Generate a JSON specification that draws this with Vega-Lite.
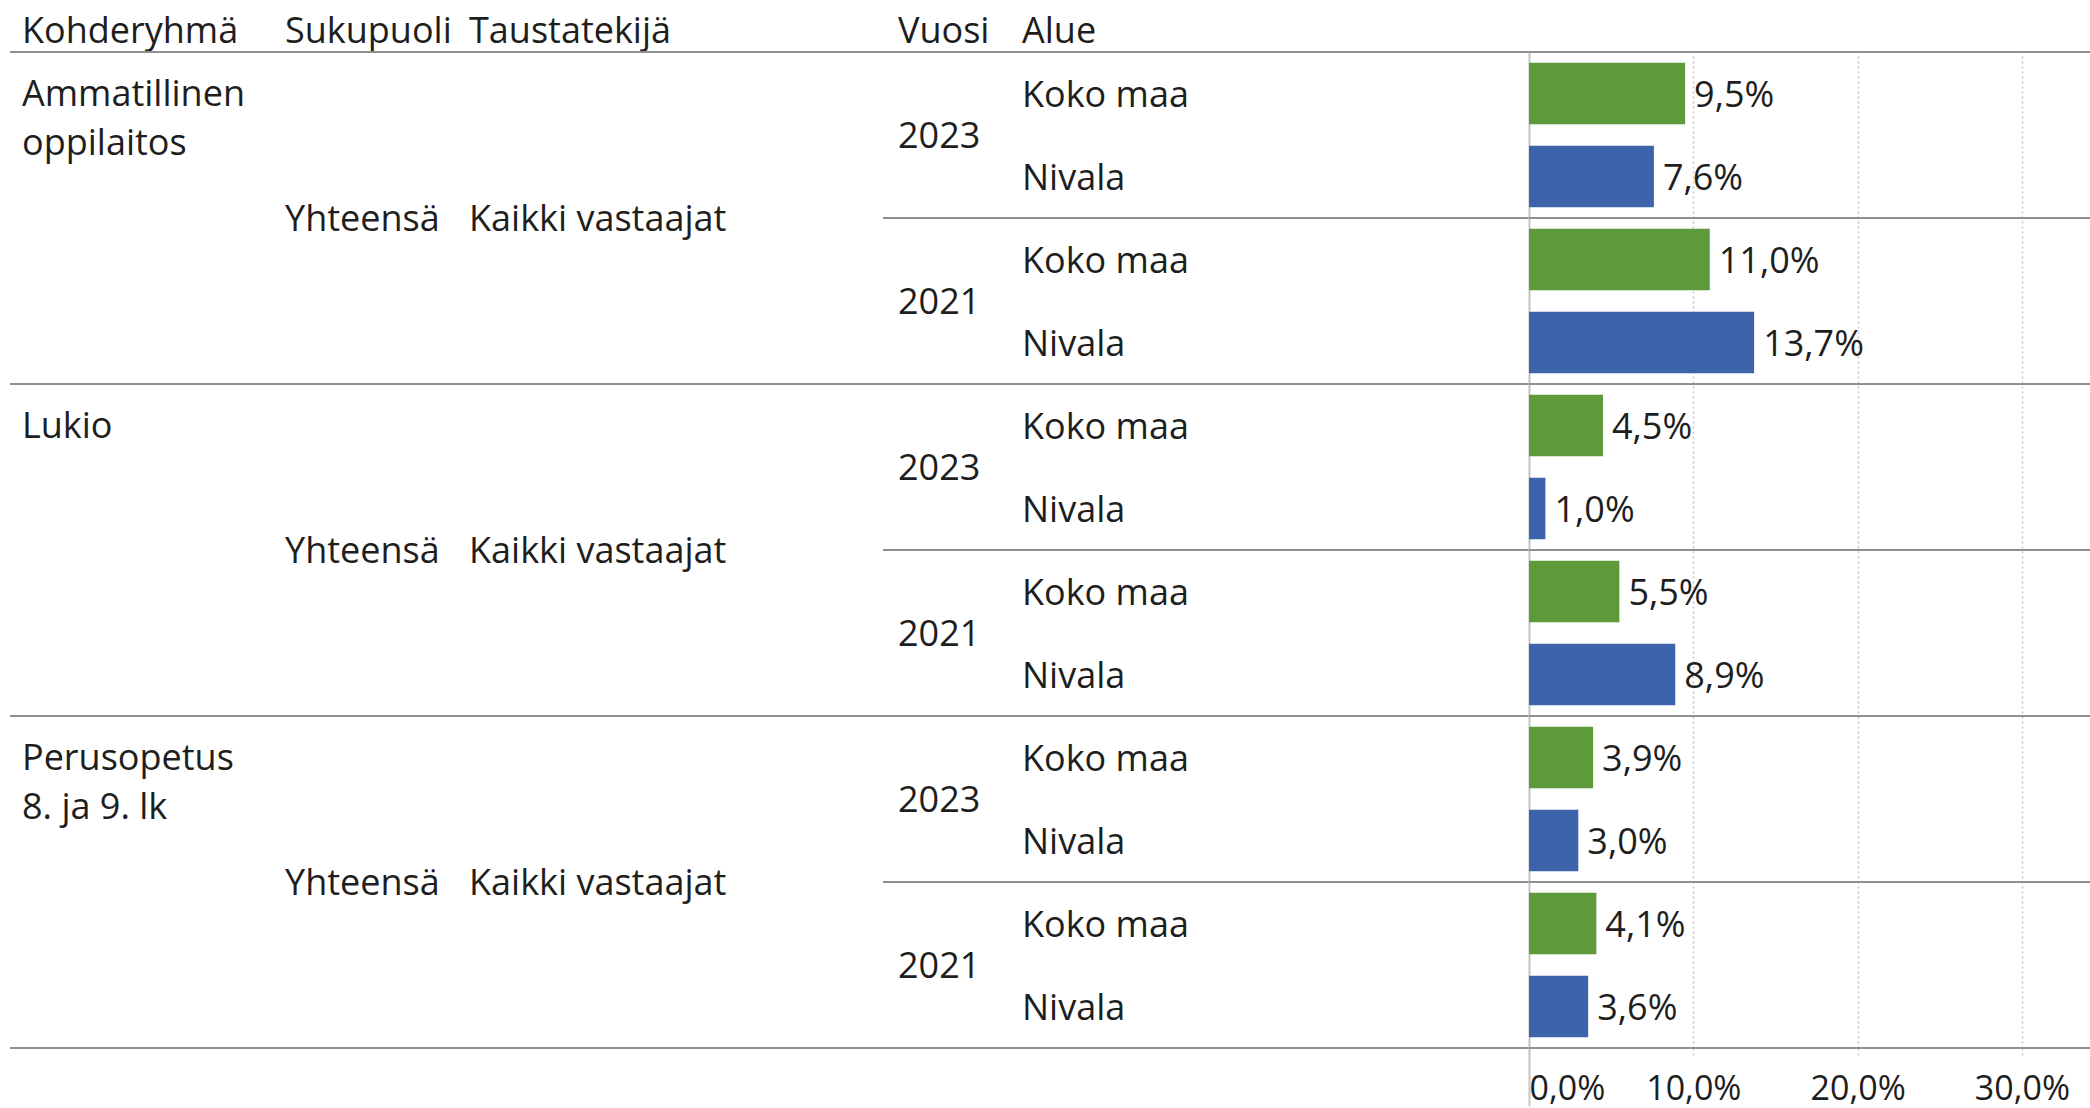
{
  "$schema": "https://vega.github.io/schema/vega-lite/v6.json",
  "padding": {"left": 9, "top": 13, "right": 0, "bottom": 0},
  "spacing": 0,
  "bounds": "flush",
  "config": {
    "view": {"stroke": null},
    "locale": {"number": {"decimal": ",", "thousands": "\u00a0", "grouping": [3], "currency": ["", "\u00a0€"], "percent": "%"}},
    "font": "Open Sans",
    "text": {"font": "Open Sans", "fontSize": 36, "color": "#1e1e1e"},
    "rule": {"color": "#909090", "strokeWidth": 2},
    "axis": {"labelFont": "Open Sans", "labelFontSize": 36, "labelColor": "#1e1e1e", "labelLimit": 1000}
  },
  "datasets": {
    "main": [
      {"Kohderyhmä": "Ammatillinen oppilaitos", "Otsikko": "Ammatillinen\noppilaitos", "Sukupuoli": "Yhteensä", "Taustatekijä": "Kaikki vastaajat", "Vuosi": "2023", "Alue": "Koko maa", "Osuus": 0.095, "Lohko": "Ammatillinen oppilaitos 2023", "Rivi": "Ammatillinen oppilaitos 2023 Koko maa"},
      {"Kohderyhmä": "Ammatillinen oppilaitos", "Otsikko": "Ammatillinen\noppilaitos", "Sukupuoli": "Yhteensä", "Taustatekijä": "Kaikki vastaajat", "Vuosi": "2023", "Alue": "Nivala", "Osuus": 0.076, "Lohko": "Ammatillinen oppilaitos 2023", "Rivi": "Ammatillinen oppilaitos 2023 Nivala"},
      {"Kohderyhmä": "Ammatillinen oppilaitos", "Otsikko": "Ammatillinen\noppilaitos", "Sukupuoli": "Yhteensä", "Taustatekijä": "Kaikki vastaajat", "Vuosi": "2021", "Alue": "Koko maa", "Osuus": 0.110, "Lohko": "Ammatillinen oppilaitos 2021", "Rivi": "Ammatillinen oppilaitos 2021 Koko maa"},
      {"Kohderyhmä": "Ammatillinen oppilaitos", "Otsikko": "Ammatillinen\noppilaitos", "Sukupuoli": "Yhteensä", "Taustatekijä": "Kaikki vastaajat", "Vuosi": "2021", "Alue": "Nivala", "Osuus": 0.137, "Lohko": "Ammatillinen oppilaitos 2021", "Rivi": "Ammatillinen oppilaitos 2021 Nivala"},
      {"Kohderyhmä": "Lukio", "Otsikko": "Lukio", "Sukupuoli": "Yhteensä", "Taustatekijä": "Kaikki vastaajat", "Vuosi": "2023", "Alue": "Koko maa", "Osuus": 0.045, "Lohko": "Lukio 2023", "Rivi": "Lukio 2023 Koko maa"},
      {"Kohderyhmä": "Lukio", "Otsikko": "Lukio", "Sukupuoli": "Yhteensä", "Taustatekijä": "Kaikki vastaajat", "Vuosi": "2023", "Alue": "Nivala", "Osuus": 0.010, "Lohko": "Lukio 2023", "Rivi": "Lukio 2023 Nivala"},
      {"Kohderyhmä": "Lukio", "Otsikko": "Lukio", "Sukupuoli": "Yhteensä", "Taustatekijä": "Kaikki vastaajat", "Vuosi": "2021", "Alue": "Koko maa", "Osuus": 0.055, "Lohko": "Lukio 2021", "Rivi": "Lukio 2021 Koko maa"},
      {"Kohderyhmä": "Lukio", "Otsikko": "Lukio", "Sukupuoli": "Yhteensä", "Taustatekijä": "Kaikki vastaajat", "Vuosi": "2021", "Alue": "Nivala", "Osuus": 0.089, "Lohko": "Lukio 2021", "Rivi": "Lukio 2021 Nivala"},
      {"Kohderyhmä": "Perusopetus 8. ja 9. lk", "Otsikko": "Perusopetus\n8. ja 9. lk", "Sukupuoli": "Yhteensä", "Taustatekijä": "Kaikki vastaajat", "Vuosi": "2023", "Alue": "Koko maa", "Osuus": 0.039, "Lohko": "Perusopetus 8. ja 9. lk 2023", "Rivi": "Perusopetus 8. ja 9. lk 2023 Koko maa"},
      {"Kohderyhmä": "Perusopetus 8. ja 9. lk", "Otsikko": "Perusopetus\n8. ja 9. lk", "Sukupuoli": "Yhteensä", "Taustatekijä": "Kaikki vastaajat", "Vuosi": "2023", "Alue": "Nivala", "Osuus": 0.030, "Lohko": "Perusopetus 8. ja 9. lk 2023", "Rivi": "Perusopetus 8. ja 9. lk 2023 Nivala"},
      {"Kohderyhmä": "Perusopetus 8. ja 9. lk", "Otsikko": "Perusopetus\n8. ja 9. lk", "Sukupuoli": "Yhteensä", "Taustatekijä": "Kaikki vastaajat", "Vuosi": "2021", "Alue": "Koko maa", "Osuus": 0.041, "Lohko": "Perusopetus 8. ja 9. lk 2021", "Rivi": "Perusopetus 8. ja 9. lk 2021 Koko maa"},
      {"Kohderyhmä": "Perusopetus 8. ja 9. lk", "Otsikko": "Perusopetus\n8. ja 9. lk", "Sukupuoli": "Yhteensä", "Taustatekijä": "Kaikki vastaajat", "Vuosi": "2021", "Alue": "Nivala", "Osuus": 0.036, "Lohko": "Perusopetus 8. ja 9. lk 2021", "Rivi": "Perusopetus 8. ja 9. lk 2021 Nivala"}
    ]
  },
  "resolve": {"scale": {"x": "independent", "y": "independent"}},
  "hconcat": [
    {
      "width": 275, "height": 996,
      "data": {"name": "main"},
      "transform": [{"filter": "datum.Vuosi === '2023' && datum.Alue === 'Koko maa'"}],
      "layer": [
        {
          "mark": {"type": "text", "align": "left", "baseline": "top", "dx": 12, "dy": 26, "lineBreak": "\n", "lineHeight": 49},
          "encoding": {
            "y": {"field": "Kohderyhmä", "type": "nominal", "sort": null, "bandPosition": 0, "scale": {"type": "band", "paddingInner": 0, "paddingOuter": 0}, "axis": null},
            "x": {"datum": "Kohderyhmä", "type": "nominal", "bandPosition": 0, "scale": {"type": "band", "paddingInner": 0, "paddingOuter": 0},
                  "axis": {"orient": "top", "title": null, "domain": false, "ticks": false, "grid": false, "labelAngle": 0, "labelAlign": "left", "labelOffset": -125.5, "labelBaseline": "alphabetic", "labelPadding": 10}},
            "text": {"field": "Otsikko"}
          }
        },
        {"mark": {"type": "rule"}, "encoding": {"y": {"field": "Kohderyhmä", "type": "nominal", "sort": null, "bandPosition": 0}}},
        {"mark": {"type": "rule"}, "encoding": {"y": {"field": "Kohderyhmä", "type": "nominal", "sort": null, "bandPosition": 1}}}
      ]
    },
    {
      "width": 184, "height": 996,
      "data": {"name": "main"},
      "transform": [{"filter": "datum.Vuosi === '2023' && datum.Alue === 'Koko maa'"}],
      "layer": [
        {
          "mark": {"type": "text", "align": "left", "baseline": "middle", "dy": 2},
          "encoding": {
            "y": {"field": "Kohderyhmä", "type": "nominal", "sort": null, "scale": {"type": "band", "paddingInner": 0, "paddingOuter": 0}, "axis": null},
            "x": {"datum": "Sukupuoli", "type": "nominal", "bandPosition": 0, "scale": {"type": "band", "paddingInner": 0, "paddingOuter": 0},
                  "axis": {"orient": "top", "title": null, "domain": false, "ticks": false, "grid": false, "labelAngle": 0, "labelAlign": "left", "labelOffset": -92, "labelBaseline": "alphabetic", "labelPadding": 10}},
            "text": {"field": "Sukupuoli"}
          }
        },
        {"mark": {"type": "rule"}, "encoding": {"y": {"field": "Kohderyhmä", "type": "nominal", "sort": null, "bandPosition": 0}}},
        {"mark": {"type": "rule"}, "encoding": {"y": {"field": "Kohderyhmä", "type": "nominal", "sort": null, "bandPosition": 1}}}
      ]
    },
    {
      "width": 414, "height": 996,
      "data": {"name": "main"},
      "transform": [{"filter": "datum.Vuosi === '2023' && datum.Alue === 'Koko maa'"}],
      "layer": [
        {
          "mark": {"type": "text", "align": "left", "baseline": "middle", "dy": 2},
          "encoding": {
            "y": {"field": "Kohderyhmä", "type": "nominal", "sort": null, "scale": {"type": "band", "paddingInner": 0, "paddingOuter": 0}, "axis": null},
            "x": {"datum": "Taustatekijä", "type": "nominal", "bandPosition": 0, "scale": {"type": "band", "paddingInner": 0, "paddingOuter": 0},
                  "axis": {"orient": "top", "title": null, "domain": false, "ticks": false, "grid": false, "labelAngle": 0, "labelAlign": "left", "labelOffset": -207, "labelBaseline": "alphabetic", "labelPadding": 10}},
            "text": {"field": "Taustatekijä"}
          }
        },
        {"mark": {"type": "rule"}, "encoding": {"y": {"field": "Kohderyhmä", "type": "nominal", "sort": null, "bandPosition": 0}}},
        {"mark": {"type": "rule"}, "encoding": {"y": {"field": "Kohderyhmä", "type": "nominal", "sort": null, "bandPosition": 1}}}
      ]
    },
    {
      "width": 139, "height": 996,
      "data": {"name": "main"},
      "transform": [{"filter": "datum.Alue === 'Koko maa'"}],
      "layer": [
        {
          "mark": {"type": "text", "align": "left", "baseline": "middle", "dx": 15, "dy": 2},
          "encoding": {
            "y": {"field": "Lohko", "type": "nominal", "sort": null, "scale": {"type": "band", "paddingInner": 0, "paddingOuter": 0}, "axis": null},
            "x": {"datum": "Vuosi", "type": "nominal", "bandPosition": 0, "scale": {"type": "band", "paddingInner": 0, "paddingOuter": 0},
                  "axis": {"orient": "top", "title": null, "domain": false, "ticks": false, "grid": false, "labelAngle": 0, "labelAlign": "left", "labelOffset": -54.5, "labelBaseline": "alphabetic", "labelPadding": 10}},
            "text": {"field": "Vuosi"}
          }
        },
        {"mark": {"type": "rule"}, "encoding": {"y": {"field": "Lohko", "type": "nominal", "sort": null, "bandPosition": 0}}},
        {"mark": {"type": "rule"}, "encoding": {"y": {"field": "Lohko", "type": "nominal", "sort": null, "bandPosition": 1}}}
      ]
    },
    {
      "width": 507, "height": 996,
      "data": {"name": "main"},
      "resolve": {"scale": {"y": "independent"}},
      "layer": [
        {
          "mark": {"type": "text", "align": "left", "baseline": "middle", "dy": 2},
          "encoding": {
            "y": {"field": "Rivi", "type": "nominal", "sort": null, "scale": {"type": "band", "paddingInner": 0, "paddingOuter": 0}, "axis": null},
            "x": {"datum": "Alue", "type": "nominal", "bandPosition": 0, "scale": {"type": "band", "paddingInner": 0, "paddingOuter": 0},
                  "axis": {"orient": "top", "title": null, "domain": false, "ticks": false, "grid": false, "labelAngle": 0, "labelAlign": "left", "labelOffset": -253.5, "labelBaseline": "alphabetic", "labelPadding": 10}},
            "text": {"field": "Alue"}
          }
        },
        {"mark": {"type": "rule"}, "encoding": {"y": {"field": "Lohko", "type": "nominal", "sort": null, "bandPosition": 0, "scale": {"type": "band", "paddingInner": 0, "paddingOuter": 0}, "axis": null}}},
        {"mark": {"type": "rule"}, "encoding": {"y": {"field": "Lohko", "type": "nominal", "sort": null, "bandPosition": 1, "scale": {"type": "band", "paddingInner": 0, "paddingOuter": 0}, "axis": null}}}
      ]
    },
    {
      "width": 562, "height": 996,
      "data": {"name": "main"},
      "layer": [
        {
          "layer": [
            {
              "mark": {"type": "bar", "height": {"band": 0.74}},
              "encoding": {
                "y": {"field": "Rivi", "type": "nominal", "sort": null, "scale": {"type": "band", "paddingInner": 0, "paddingOuter": 0}, "axis": null},
                "x": {"field": "Osuus", "type": "quantitative", "scale": {"domain": [0, 0.342], "nice": false, "zero": true},
                      "axis": {"orient": "bottom", "format": ".1%", "values": [0, 0.1, 0.2, 0.3], "title": null, "domain": false,
                               "grid": true, "gridColor": "#c4c4c4",
                               "gridDash": {"condition": {"test": "datum.value === 0", "value": []}, "value": [2, 3]},
                               "gridWidth": {"condition": {"test": "datum.value === 0", "value": 2}, "value": 1.5},
                               "ticks": true,
                               "tickSize": {"condition": {"test": "datum.value === 0", "value": 58}, "value": 10},
                               "tickColor": "#c4c4c4",
                               "tickDash": {"condition": {"test": "datum.value === 0", "value": []}, "value": [2, 3]},
                               "tickWidth": {"condition": {"test": "datum.value === 0", "value": 2}, "value": 1.5},
                               "labelFontSize": 34, "labelFlush": true,
                               "labelPadding": {"condition": {"test": "datum.value === 0", "value": -34}, "value": 14}}},
                "color": {"field": "Alue", "type": "nominal", "scale": {"domain": ["Koko maa", "Nivala"], "range": ["#5e9a39", "#3d63ab"]}, "legend": null}
              }
            },
            {
              "mark": {"type": "text", "align": "left", "baseline": "middle", "dx": 9, "dy": 2},
              "encoding": {
                "y": {"field": "Rivi", "type": "nominal", "sort": null},
                "x": {"field": "Osuus", "type": "quantitative"},
                "text": {"field": "Osuus", "format": ".1%"}
              }
            }
          ]
        },
        {"mark": {"type": "rule"}, "encoding": {"y": {"field": "Lohko", "type": "nominal", "sort": null, "bandPosition": 0, "scale": {"type": "band", "paddingInner": 0, "paddingOuter": 0}, "axis": null}}},
        {"mark": {"type": "rule"}, "encoding": {"y": {"field": "Lohko", "type": "nominal", "sort": null, "bandPosition": 1, "scale": {"type": "band", "paddingInner": 0, "paddingOuter": 0}, "axis": null}}}
      ],
      "resolve": {"scale": {"y": "independent"}}
    }
  ]
}
